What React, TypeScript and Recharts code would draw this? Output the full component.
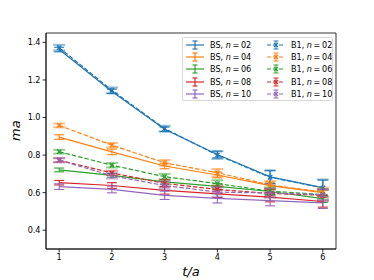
import React from 'react';
import { ComposedChart, Line, XAxis, YAxis, ErrorBar, ReferenceArea } from 'recharts';

const T = [1, 2, 3, 4, 5, 6];
const N_LABELS = ['02', '04', '06', '08', '10'];
const COLORS = ['#1f77b4', '#ff7f0e', '#2ca02c', '#d62728', '#9467bd'];

// BS fits (solid)
const BS = [
  [1.362, 1.139, 0.937, 0.803, 0.684, 0.627],
  [0.896, 0.817, 0.742, 0.694, 0.637, 0.600],
  [0.721, 0.692, 0.657, 0.633, 0.606, 0.568],
  [0.653, 0.638, 0.612, 0.594, 0.576, 0.553],
  [0.632, 0.617, 0.586, 0.570, 0.558, 0.546],
];
const BS_ERR = [
  [0.012, 0.012, 0.012, 0.018, 0.035, 0.040],
  [0.012, 0.015, 0.015, 0.015, 0.020, 0.020],
  [0.010, 0.010, 0.012, 0.015, 0.015, 0.020],
  [0.012, 0.015, 0.020, 0.020, 0.025, 0.030],
  [0.015, 0.018, 0.022, 0.025, 0.028, 0.030],
];
// B1 fits (dashed)
const B1 = [
  [1.372, 1.145, 0.941, 0.800, 0.682, 0.625],
  [0.958, 0.853, 0.759, 0.706, 0.641, 0.603],
  [0.818, 0.746, 0.685, 0.648, 0.608, 0.590],
  [0.773, 0.705, 0.649, 0.617, 0.596, 0.586],
  [0.773, 0.690, 0.638, 0.603, 0.598, 0.589],
];
const B1_ERR = [
  [0.015, 0.015, 0.015, 0.020, 0.035, 0.045],
  [0.010, 0.012, 0.015, 0.020, 0.020, 0.025],
  [0.010, 0.012, 0.015, 0.018, 0.020, 0.025],
  [0.010, 0.012, 0.020, 0.020, 0.020, 0.030],
  [0.012, 0.015, 0.020, 0.025, 0.025, 0.030],
];

const X_TICKS = [1, 2, 3, 4, 5, 6];
const Y_TICKS = [0.4, 0.6, 0.8, 1.0, 1.2, 1.4];
const X_DOMAIN: [number, number] = [0.75, 6.25];
const Y_DOMAIN: [number, number] = [0.3, 1.45];

const rows = T.map((t, i) => {
  const r: Record<string, number> = { t };
  N_LABELS.forEach((n, k) => {
    r[`bs${n}`] = BS[k][i];
    r[`bs${n}e`] = BS_ERR[k][i];
    r[`b1${n}`] = B1[k][i];
    r[`b1${n}e`] = B1_ERR[k][i];
  });
  return r;
});

const FONT = 'DejaVu Sans';

const xMark = (color: string) => (p: any) => {
  const { cx, cy, key } = p;
  if (cx == null || cy == null) return <g key={key} />;
  const s = 2.2;
  return (
    <g key={key} stroke={color} strokeWidth={1.3}>
      <line x1={cx - s} y1={cy - s} x2={cx + s} y2={cy + s} />
      <line x1={cx - s} y1={cy + s} x2={cx + s} y2={cy - s} />
    </g>
  );
};

function LegendItem({ color, dashed, label, n }: { color: string; dashed: boolean; label: string; n: string }) {
  const op = dashed ? 0.5 : 1;
  const ew = dashed ? 2 : 1.2;
  return (
    <div style={{ display: 'flex', alignItems: 'center', height: 12.2, whiteSpace: 'nowrap' }}>
      <svg width={20} height={12} style={{ marginRight: 5, flex: 'none' }}>
        <line x1={1} y1={6} x2={19} y2={6} stroke={color} strokeWidth={1.2} strokeDasharray={dashed ? '4 2' : undefined} />
        <line x1={10} y1={2} x2={10} y2={10} stroke={color} strokeWidth={ew} strokeOpacity={op} />
        <line x1={7.5} y1={2} x2={12.5} y2={2} stroke={color} strokeWidth={ew} strokeOpacity={op} />
        <line x1={7.5} y1={10} x2={12.5} y2={10} stroke={color} strokeWidth={ew} strokeOpacity={op} />
        {dashed && (
          <g stroke={color} strokeWidth={1.3}>
            <line x1={8} y1={4} x2={12} y2={8} />
            <line x1={8} y1={8} x2={12} y2={4} />
          </g>
        )}
      </svg>
      <span>
        {label}, <i>n</i>&thinsp;=&thinsp;{n}
      </span>
    </div>
  );
}

export default function App() {
  return (
    <div style={{ position: 'absolute', left: 0, top: 0, width: 374, height: 280, background: '#fff' }}>
      <ComposedChart width={374} height={280} data={rows} margin={{ top: 33, right: 38, bottom: 0, left: 0 }}>
        <XAxis
          dataKey="t" type="number" domain={X_DOMAIN} ticks={X_TICKS} allowDataOverflow
          height={31} tickSize={3.5} tickMargin={2}
          axisLine={{ stroke: '#000', strokeWidth: 0.8 }} tickLine={{ stroke: '#000', strokeWidth: 0.8 }}
          tick={{ fontSize: 8.1, fill: '#000', fontFamily: FONT }}
          label={{ value: 't/a', position: 'insideBottom', offset: 4, fontSize: 13, fontStyle: 'italic', fill: '#000', fontFamily: FONT }}
        />
        <YAxis
          type="number" domain={Y_DOMAIN} ticks={Y_TICKS} allowDataOverflow
          width={46} tickSize={3.5} tickMargin={2}
          tickFormatter={(v) => v.toFixed(1)}
          axisLine={{ stroke: '#000', strokeWidth: 0.8 }} tickLine={{ stroke: '#000', strokeWidth: 0.8 }}
          tick={{ fontSize: 8.1, fill: '#000', fontFamily: FONT }}
          label={{ value: 'ma', angle: -90, position: 'insideLeft', offset: 15, fontSize: 13, fontStyle: 'italic', fill: '#000', fontFamily: FONT }}
        />
        {/* frame */}
        <ReferenceArea x1={X_DOMAIN[0]} x2={X_DOMAIN[1]} y1={Y_DOMAIN[0]} y2={Y_DOMAIN[1]} fill="none" stroke="#000" strokeWidth={0.8} fillOpacity={0} />
        {N_LABELS.map((n, k) => (
          <Line key={`bs${n}`} dataKey={`bs${n}`} stroke={COLORS[k]} strokeWidth={1.2} dot={false} activeDot={false} type="linear" isAnimationActive={false}>
            <ErrorBar dataKey={`bs${n}e`} direction="y" width={5} stroke={COLORS[k]} strokeWidth={1.1} />
          </Line>
        ))}
        {N_LABELS.map((n, k) => (
          <Line key={`b1${n}`} dataKey={`b1${n}`} stroke={COLORS[k]} strokeWidth={1.2} strokeDasharray="4.5 2" dot={xMark(COLORS[k])} activeDot={false} type="linear" isAnimationActive={false}>
            <ErrorBar dataKey={`b1${n}e`} direction="y" width={6} stroke={COLORS[k]} strokeWidth={2} strokeOpacity={0.5} />
          </Line>
        ))}
      </ComposedChart>
      <div
        style={{
          position: 'absolute', left: 182, top: 37, width: 151, height: 64, boxSizing: 'border-box',
          border: '0.8px solid #d8d8d8', borderRadius: 2, background: 'rgba(255,255,255,0.8)',
          fontFamily: FONT, fontSize: 8.1, color: '#000', display: 'flex', padding: '1px 0 0 2px',
        }}
      >
        <div style={{ width: 81, flex: 'none' }}>
          {N_LABELS.map((n, k) => <LegendItem key={n} color={COLORS[k]} dashed={false} label="BS" n={n} />)}
        </div>
        <div style={{ flex: 'none' }}>
          {N_LABELS.map((n, k) => <LegendItem key={n} color={COLORS[k]} dashed label="B1" n={n} />)}
        </div>
      </div>
    </div>
  );
}
